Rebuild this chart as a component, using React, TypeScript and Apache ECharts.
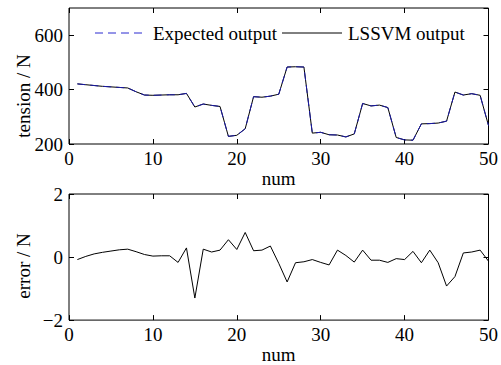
import React, { useEffect, useRef } from "react";
import * as echarts from "echarts";

const nums = Array.from({ length: 50 }, (_, i) => i + 1);
const expected = [421, 418, 415, 412, 410, 408, 406, 392, 380, 379, 380, 381, 381, 386, 336, 347, 342, 338, 228, 232, 256, 374, 372, 376, 383, 483, 484, 483, 240, 243, 234, 233, 226, 237, 349, 340, 343, 334, 224, 215, 214, 274, 275, 277, 284, 391, 380, 385, 379, 268];
const lssvm = [421, 418, 415, 412, 410, 408, 406, 392, 380, 379, 380, 381, 381, 386, 336, 347, 342, 338, 228, 232, 256, 374, 372, 376, 383, 483, 484, 483, 240, 243, 234, 233, 226, 237, 349, 340, 343, 334, 224, 215, 214, 274, 275, 277, 284, 391, 380, 385, 379, 268];
const errors = [-0.08, 0.02, 0.1, 0.15, 0.19, 0.23, 0.25, 0.17, 0.08, 0.03, 0.04, 0.04, -0.17, 0.29, -1.3, 0.25, 0.16, 0.22, 0.55, 0.24, 0.78, 0.2, 0.22, 0.35, -0.2, -0.79, -0.18, -0.15, -0.08, -0.17, -0.25, 0.22, 0.05, -0.16, 0.22, -0.1, -0.1, -0.17, -0.05, -0.08, 0.18, -0.18, 0.22, -0.18, -0.92, -0.62, 0.13, 0.16, 0.22, -0.13];
const legendNames = ["Expected output", "LSSVM output"];
const yNames = ["tension / N", "error / N"];
const xName = "num";

const FONT = "Liberation Serif";
const FS = 19;

export default function App() {
  const ref = useRef<HTMLDivElement>(null);
  useEffect(() => {
    const chart = echarts.init(ref.current!, null, { renderer: "svg" });
    const tick = { show: true, inside: true, length: 5, lineStyle: { color: "#000", width: 1 } };
    const lbl = (show: boolean) => ({
      show,
      color: "#000",
      fontFamily: FONT,
      fontSize: FS,
      margin: 5,
      formatter: (v: number) => String(v).replace("-", "\u2212"),
    });
    const xa = (gridIndex: number, position: string, labels: boolean) => ({
      type: "value",
      gridIndex,
      position,
      min: 0,
      max: 50,
      interval: 10,
      axisLine: { show: false, onZero: false },
      axisTick: tick,
      axisLabel: lbl(labels),
      splitLine: { show: false },
      name: labels ? xName : "",
      nameLocation: "middle",
      nameGap: 21,
      nameTextStyle: { color: "#000", fontFamily: FONT, fontSize: FS, verticalAlign: "top" },
    });
    const ya = (gridIndex: number, position: string, labels: boolean, min: number, max: number, interval: number) => ({
      type: "value",
      gridIndex,
      position,
      min,
      max,
      interval,
      axisLine: { show: false, onZero: false },
      axisTick: tick,
      axisLabel: { ...lbl(labels), margin: 6, showMaxLabel: max !== 700 },
      splitLine: { show: false },
    });
    chart.setOption({
      animation: false,
      textStyle: { fontFamily: FONT, fontSize: FS, color: "#000" },
      grid: [
        { left: 69, right: 12, top: 8, height: 136, show: true, borderColor: "#000", borderWidth: 1, backgroundColor: "#fff" },
        { left: 69, right: 12, top: 194, height: 135, show: true, borderColor: "#000", borderWidth: 1, backgroundColor: "#fff" },
      ],
      xAxis: [xa(0, "bottom", true), xa(0, "top", false), xa(1, "bottom", true), xa(1, "top", false)],
      yAxis: [
        ya(0, "left", true, 200, 700, 200),
        ya(0, "right", false, 200, 700, 200),
        ya(1, "left", true, -2, 2, 2),
        ya(1, "right", false, -2, 2, 2),
      ],
      series: [
        {
          type: "line",
          name: legendNames[1],
          xAxisIndex: 0,
          yAxisIndex: 0,
          data: nums.map((n, i) => [n, lssvm[i]]),
          symbol: "none",
          lineStyle: { color: "#000", width: 1 },
        },
        {
          type: "line",
          name: legendNames[0],
          xAxisIndex: 0,
          yAxisIndex: 0,
          data: nums.map((n, i) => [n, expected[i]]),
          symbol: "none",
          lineStyle: { color: "#1a1aa6", width: 1, type: [8, 5] },
        },
        {
          type: "line",
          xAxisIndex: 2,
          yAxisIndex: 2,
          data: nums.map((n, i) => [n, errors[i]]),
          symbol: "none",
          lineStyle: { color: "#000", width: 1 },
        },
      ],
      graphic: [
        { type: "line", shape: { x1: 95, y1: 33, x2: 146, y2: 33 }, style: { stroke: "#2a2ad0", lineWidth: 1, lineDash: [8, 5] } },
        { type: "text", x: 153, y: 33, style: { text: legendNames[0], fill: "#000", font: `${FS}px "${FONT}"`, verticalAlign: "middle" } },
        { type: "line", shape: { x1: 282, y1: 33, x2: 342, y2: 33 }, style: { stroke: "#000", lineWidth: 1 } },
        { type: "text", x: 348, y: 33, style: { text: legendNames[1], fill: "#000", font: `${FS}px "${FONT}"`, verticalAlign: "middle" } },
        { type: "text", x: 23, y: 96, rotation: Math.PI / 2, style: { text: yNames[0], fill: "#000", font: `${FS}px "${FONT}"`, align: "center", verticalAlign: "middle" } },
        { type: "text", x: 23, y: 266, rotation: Math.PI / 2, style: { text: yNames[1], fill: "#000", font: `${FS}px "${FONT}"`, align: "center", verticalAlign: "middle" } },
      ],
    });
    return () => chart.dispose();
  }, []);
  return <div ref={ref} style={{ width: 501, height: 365, position: "absolute", left: 0, top: 0 }} />;
}
